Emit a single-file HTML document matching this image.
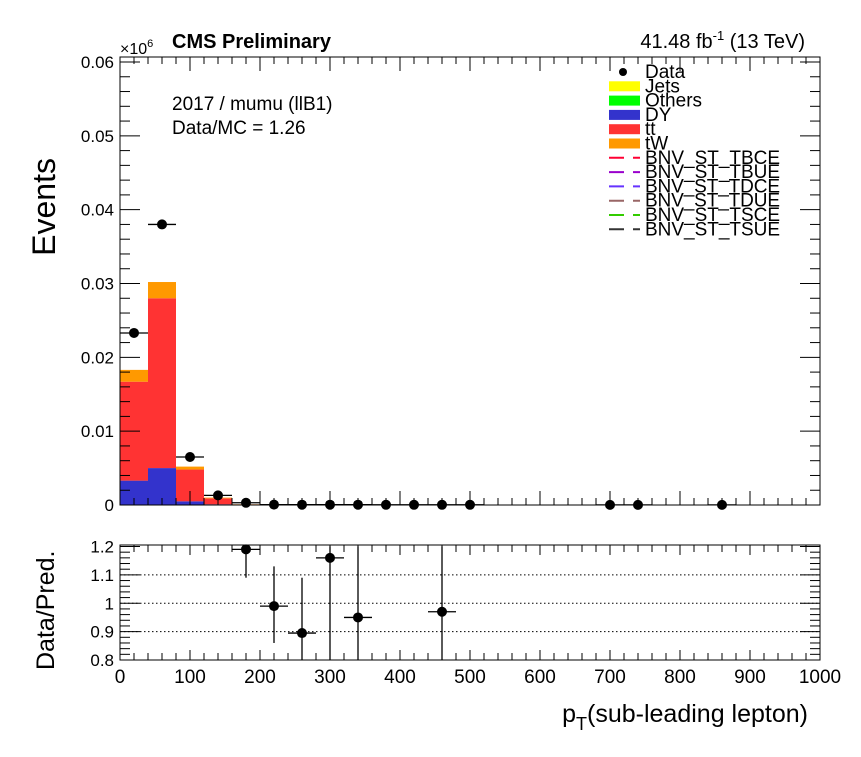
<!DOCTYPE html>
<html><head><meta charset="utf-8"><style>
body{margin:0;background:#fff;}
svg text{font-family:"Liberation Sans",sans-serif;}
</style></head><body>
<svg id="c" width="861" height="752" xmlns="http://www.w3.org/2000/svg"></svg>
<script>
const binEdgesLow=[0,40,80,120,160];
const dyVals=[0.0033,0.0050,0.0005,0.0001,0.00002];
const ttVals=[0.0134,0.0230,0.0043,0.0008,0.00006];
const twVals=[0.0016,0.0022,0.0004,0.0001,0.00002];
const dataX=[20,60,100,140,180,220,260,300,340,380,420,460,500,700,740,860];
const dataY=[0.0233,0.0380,0.0065,0.0013,0.0003,0.00005,0.00004,0.00004,0.00004,0.00003,0.00003,0.00003,0.00003,0.00002,0.00002,0.00002];
const ratioX=[180,220,260,300,340,460];
const ratioY=[1.19,0.99,0.895,1.16,0.95,0.97];
const ratioLo=[0.10,0.13,0.10,0.36,0.15,0.17];
const ratioHi=[0.01,0.14,0.195,0.04,0.25,0.23];
const yTicks=[0,0.01,0.02,0.03,0.04,0.05,0.06];
const yTickLabels=["0","0.01","0.02","0.03","0.04","0.05","0.06"];
const rTicks=[0.8,0.9,1,1.1,1.2];
const rTickLabels=["0.8","0.9","1","1.1","1.2"];
const xTicks=[0,100,200,300,400,500,600,700,800,900,1000];

const NS="http://www.w3.org/2000/svg";
const svg=document.getElementById('c');
function el(t,a,txt){const e=document.createElementNS(NS,t);for(const k in a)e.setAttribute(k,a[k]);if(txt!==undefined)e.textContent=txt;svg.appendChild(e);return e;}
const X0=120,X1=820;
const sx=v=>X0+(v/1000)*(X1-X0);
const MT=57,MB=505;
const sy=v=>MB-(v/0.06)*(505-62);
const RT=545,RB=660;
const ry=v=>RB-(v-0.8)/0.4*(RB-546.5);

for(let i=0;i<binEdgesLow.length;i++){
  const x=sx(binEdgesLow[i]),w=sx(binEdgesLow[i]+40)-x;
  let b=0;
  [[dyVals,'#3333cc','dy'],[ttVals,'#ff3333','tt'],[twVals,'#ff9900','tw']].forEach(([arr,col,n])=>{
    const v=arr[i];const r=el('rect',{x:x,y:sy(b+v),width:w,height:sy(b)-sy(b+v),fill:col});
    
    
    b+=v;
  });
}
const f=el('rect',{x:X0,y:MT,width:X1-X0,height:MB-MT,fill:'none',stroke:'#000','stroke-width':1});

yTicks.forEach((t,i)=>{
  const y=sy(t);
  el('line',{x1:X0,x2:X0+20,y1:y,y2:y,stroke:'#000'});
  el('line',{x1:X1,x2:X1-20,y1:y,y2:y,stroke:'#000'});
  if(i<yTicks.length-1)for(let k=1;k<5;k++){const yy=sy(t+k*0.002);el('line',{x1:X0,x2:X0+10,y1:yy,y2:yy,stroke:'#000'});el('line',{x1:X1,x2:X1-10,y1:yy,y2:yy,stroke:'#000'});}
  const tx=el('text',{x:X0-6,y:y+6,'text-anchor':'end','font-size':17},yTickLabels[i]);
  
});
xTicks.forEach((t,i)=>{
  const x=sx(t);
  [[MB,MT],[RB,RT]].forEach(([b,tp])=>{
    el('line',{x1:x,x2:x,y1:b,y2:b-(b===MB?14:10),stroke:'#000'});
    el('line',{x1:x,x2:x,y1:tp,y2:tp+(b===MB?14:10),stroke:'#000'});
    if(i<xTicks.length-1)for(let k=1;k<5;k++){const xx=sx(t+k*20);el('line',{x1:xx,x2:xx,y1:b,y2:b-7,stroke:'#000'});el('line',{x1:xx,x2:xx,y1:tp,y2:tp+7,stroke:'#000'});}
  });
  const tx=el('text',{x:x,y:683,'text-anchor':'middle','font-size':19},String(t));
  
});
dataX.forEach((xv,i)=>{
  const x=sx(xv),y=sy(dataY[i]);
  el('line',{x1:sx(xv-20),x2:sx(xv+20),y1:y,y2:y,stroke:'#000','stroke-width':1.3});
  const c=el('circle',{cx:x,cy:y,r:5,fill:'#000'});
  
});
const rf=el('rect',{x:X0,y:RT,width:X1-X0,height:RB-RT,fill:'none',stroke:'#000'});

rTicks.forEach((t,i)=>{
  const y=ry(t);
  if(t>0.85&&t<1.15)el('line',{x1:X0,x2:X1,y1:y,y2:y,stroke:'#000','stroke-dasharray':'1.5,2.5'});
  el('line',{x1:X0,x2:X0+20,y1:y,y2:y,stroke:'#000'});
  el('line',{x1:X1,x2:X1-20,y1:y,y2:y,stroke:'#000'});
  if(i<rTicks.length-1)for(let k=1;k<5;k++){const yy=ry(t+k*0.02);el('line',{x1:X0,x2:X0+10,y1:yy,y2:yy,stroke:'#000'});el('line',{x1:X1,x2:X1-10,y1:yy,y2:yy,stroke:'#000'});}
  const tx=el('text',{x:X0-6,y:y+6,'text-anchor':'end','font-size':17},rTickLabels[i]);
  
});
ratioX.forEach((xv,i)=>{
  const x=sx(xv),y=ry(ratioY[i]);
  el('line',{x1:sx(xv-20),x2:sx(xv+20),y1:y,y2:y,stroke:'#000','stroke-width':1.3});
  el('line',{x1:x,x2:x,y1:Math.min(RB,ry(ratioY[i]-ratioLo[i])),y2:Math.max(RT,ry(ratioY[i]+ratioHi[i])),stroke:'#000','stroke-width':1.3});
  const c=el('circle',{cx:x,cy:y,r:5,fill:'#000'});
  
});
let t;
t=el('text',{x:172,y:48,'font-size':20,'font-weight':'bold'},'CMS Preliminary');
t=el('text',{x:805,y:48,'text-anchor':'end','font-size':20},'');t.innerHTML='41.48 fb<tspan dy="-8" font-size="13">-1</tspan><tspan dy="8"> (13 TeV)</tspan>';
t=el('text',{x:120,y:54,'font-size':16},'');t.innerHTML='×10<tspan dy="-7" font-size="11">6</tspan>';
t=el('text',{x:172,y:110,'font-size':19},'2017 / mumu (llB1)');
t=el('text',{x:172,y:134,'font-size':19},'Data/MC = 1.26');
t=el('text',{x:0,y:0,'font-size':32,transform:'translate(55,158) rotate(-90)','text-anchor':'end'},'Events');
t=el('text',{x:0,y:0,'font-size':25,transform:'translate(54,670) rotate(-90)'},'Data/Pred.');
t=el('text',{x:808,y:722,'text-anchor':'end','font-size':25},'');t.innerHTML='p<tspan dy="8" font-size="18">T</tspan><tspan dy="-8">(sub-leading lepton)</tspan>';
const leg=[['Data','dot','#000'],['Jets','box','#ffff00'],['Others','box','#00ff00'],['DY','box','#3333cc'],['tt','box','#ff3333'],['tW','box','#ff9900'],['BNV_ST_TBCE','dash','#ff0033'],['BNV_ST_TBUE','dash','#9900cc'],['BNV_ST_TDCE','dash','#6633ff'],['BNV_ST_TDUE','dash','#996666'],['BNV_ST_TSCE','dash','#33cc00'],['BNV_ST_TSUE','dash','#333333']];
leg.forEach((l,i)=>{
  const y=72+i*14.3;
  if(l[1]==='dot')el('circle',{cx:623,cy:y,r:4,fill:'#000'});
  else if(l[1]==='box')el('rect',{x:609,y:y-5,width:31,height:10,fill:l[2]});
  else el('line',{x1:609,x2:640,y1:y,y2:y,stroke:l[2],'stroke-width':2,'stroke-dasharray':'15,9'});
  const tx=el('text',{x:645,y:y+6,'font-size':19,textLength:l[0].length>6?135:null},l[0]);
  if(l[0].length<=6)tx.removeAttribute('textLength');
  
});
</script>
</body></html>
